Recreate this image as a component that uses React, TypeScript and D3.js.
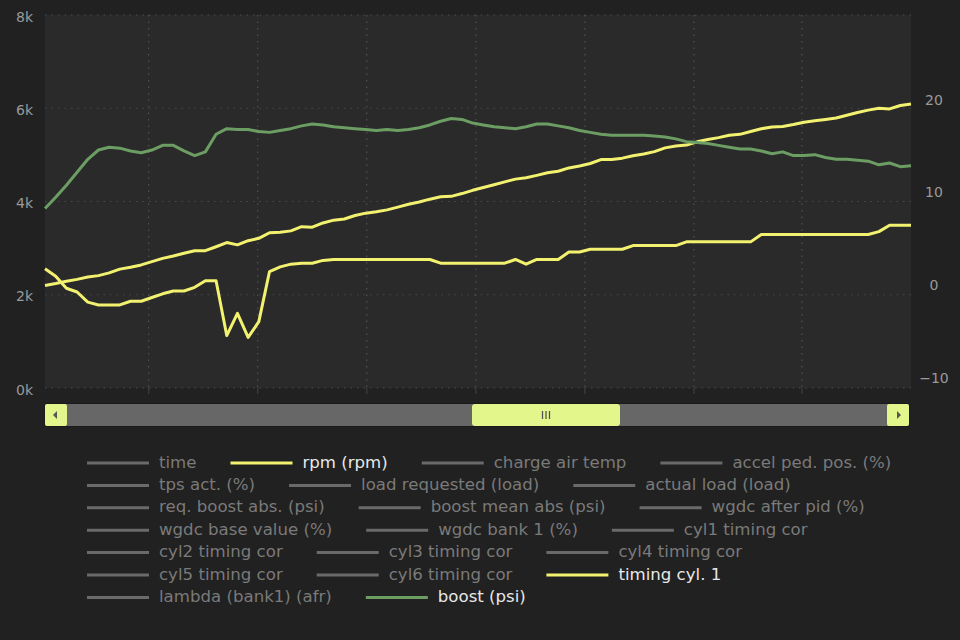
import React, { useMemo } from 'react';
import * as d3 from 'd3';

// ---- data ----
const RPM = [
  2200, 2240, 2290, 2330, 2380, 2410, 2470, 2550, 2590, 2640,
  2710, 2780, 2830, 2890, 2945, 2945, 3030, 3120, 3070, 3160,
  3210, 3330, 3340, 3370, 3460, 3450, 3540, 3600, 3625, 3700,
  3750, 3780, 3820, 3880, 3940, 3990, 4050, 4100, 4110, 4170,
  4240, 4300, 4360, 4420, 4480, 4510, 4560, 4615, 4650, 4720,
  4760, 4815, 4900, 4900, 4930, 4980, 5020, 5070, 5150, 5190,
  5210, 5280, 5330, 5370, 5420, 5440, 5500, 5560, 5600, 5610,
  5650, 5700, 5730, 5760, 5790, 5850, 5910, 5960, 6000, 5985,
  6060, 6090,
];

const TIMING_CYL1 = [
  1.6, 0.8, -0.5, -0.9, -2.0, -2.3, -2.3, -2.3, -1.9, -1.9,
  -1.5, -1.1, -0.8, -0.8, -0.4, 0.3, 0.3, -5.6, -3.2, -5.8,
  -4.1, 1.3, 1.8, 2.1, 2.2, 2.2, 2.5, 2.6, 2.6, 2.6,
  2.6, 2.6, 2.6, 2.6, 2.6, 2.6, 2.6, 2.2, 2.2, 2.2,
  2.2, 2.2, 2.2, 2.2, 2.6, 2.1, 2.6, 2.6, 2.6, 3.4,
  3.4, 3.7, 3.7, 3.7, 3.7, 4.1, 4.1, 4.1, 4.1, 4.1,
  4.5, 4.5, 4.5, 4.5, 4.5, 4.5, 4.5, 5.3, 5.3, 5.3,
  5.3, 5.3, 5.3, 5.3, 5.3, 5.3, 5.3, 5.3, 5.6, 6.3,
  6.3, 6.3,
];

const BOOST = [
  8.1, 9.3, 10.6, 12.0, 13.4, 14.4, 14.7, 14.6, 14.3, 14.1,
  14.4, 14.9, 14.9, 14.3, 13.8, 14.2, 16.1, 16.7, 16.6, 16.6,
  16.4, 16.3, 16.5, 16.7, 17.0, 17.2, 17.1, 16.9, 16.8, 16.7,
  16.6, 16.5, 16.6, 16.5, 16.6, 16.8, 17.1, 17.5, 17.8, 17.7,
  17.3, 17.1, 16.9, 16.8, 16.7, 16.9, 17.2, 17.2, 17.0, 16.8,
  16.5, 16.3, 16.1, 16.0, 16.0, 16.0, 16.0, 15.9, 15.8, 15.6,
  15.3, 15.2, 15.1, 14.9, 14.7, 14.5, 14.5, 14.3, 14.0, 14.2,
  13.8, 13.8, 13.9, 13.6, 13.4, 13.4, 13.3, 13.2, 12.8, 13.0,
  12.6, 12.7,
];

const X_GRID = [9.7, 19.9, 30.1, 40.3, 50.5, 60.7, 70.8];
const LEFT_TICKS = [0, 2000, 4000, 6000, 8000];
const RIGHT_TICKS = [-10, 0, 10, 20];
const LEFT_DOMAIN = [0, 8000];
const RIGHT_DOMAIN = [-11.25, 28.95];

const LEGEND_NAMES = [
  'time', 'rpm (rpm)', 'charge air temp', 'accel ped. pos. (%)',
  'tps act. (%)', 'load requested (load)', 'actual load (load)',
  'req. boost abs. (psi)', 'boost mean abs (psi)', 'wgdc after pid (%)',
  'wgdc base value (%)', 'wgdc bank 1 (%)', 'cyl1 timing cor',
  'cyl2 timing cor', 'cyl3 timing cor', 'cyl4 timing cor',
  'cyl5 timing cor', 'cyl6 timing cor', 'timing cyl. 1',
  'lambda (bank1) (afr)', 'boost (psi)',
];

// ---- styles ----
const YELLOW = '#f3f270';
const GREEN = '#6c9e64';
const ACTIVE_COLORS: Record<string, string> = {
  'rpm (rpm)': YELLOW,
  'timing cyl. 1': YELLOW,
  'boost (psi)': GREEN,
};
const FONT = '"DejaVu Sans", "Lucida Grande", sans-serif';
const LEGEND_FONT_SIZE = 16.6;

const W = 960;
const H = 640;
const PL = 45, PR = 911, PT = 15, PB = 388;

function measure(text: string, size: number): number {
  const c = document.createElement('canvas');
  const ctx = c.getContext('2d');
  if (!ctx) return text.length * size * 0.6;
  ctx.font = `${size}px "DejaVu Sans"`;
  return ctx.measureText(text).width;
}

export default function App() {
  const x = d3.scaleLinear().domain([0, RPM.length - 1]).range([PL, PR]);
  const yL = d3.scaleLinear().domain(LEFT_DOMAIN).range([PB, PT]);
  const yR = d3.scaleLinear().domain(RIGHT_DOMAIN).range([PB, PT]);

  const lineL = d3.line<number>().x((_, i) => x(i)).y((d) => yL(d));
  const lineR = d3.line<number>().x((_, i) => x(i)).y((d) => yR(d));

  const legend = useMemo(() => {
    const items: { name: string; x: number; y: number }[] = [];
    const startX = 87, lineW = 62, textGap = 10, itemGap = 34, maxX = 915;
    const rowY0 = 463, rowStep = 22.4;
    let cx = startX, row = 0;
    LEGEND_NAMES.forEach((name) => {
      const w = lineW + textGap + measure(name, LEGEND_FONT_SIZE);
      if (cx !== startX && cx + w > maxX) {
        row += 1;
        cx = startX;
      }
      items.push({ name, x: cx, y: rowY0 + row * rowStep });
      cx += w + itemGap;
    });
    return items;
  }, []);

  const thumbX0 = 472, thumbX1 = 620;
  const sbY = 404, sbH = 22;
  const thumbMid = (thumbX0 + thumbX1) / 2;

  return (
    <svg
      width={W}
      height={H}
      style={{ position: 'absolute', left: 0, top: 0, display: 'block' }}
      fontFamily={FONT}
    >
      <rect x={0} y={0} width={W} height={H} fill="#212121" />
      <rect x={PL} y={PT} width={PR - PL} height={PB - PT} fill="#2a2a2a" />

      {/* horizontal grid */}
      {LEFT_TICKS.map((t) => (
        <line
          key={'hg' + t}
          x1={PL}
          x2={PR}
          y1={yL(t)}
          y2={yL(t)}
          stroke="#4a4a4a"
          strokeWidth={1}
          strokeDasharray="1.5,5"
        />
      ))}
      {/* vertical grid + ticks */}
      {X_GRID.map((g) => (
        <g key={'vg' + g}>
          <line
            x1={x(g)}
            x2={x(g)}
            y1={PT}
            y2={PB}
            stroke="#5a5a5a"
            strokeWidth={1}
            strokeDasharray="1.5,5"
          />
          <line x1={x(g)} x2={x(g)} y1={PB} y2={PB + 6} stroke="#444" strokeWidth={1} />
        </g>
      ))}

      {/* left axis labels */}
      {LEFT_TICKS.map((t) => (
        <text
          key={'l' + t}
          x={33}
          y={yL(t) + 2.5}
          textAnchor="end"
          dominantBaseline="middle"
          fontSize={14}
          fill="#9a9a9a"
        >
          {t / 1000 + 'k'}
        </text>
      ))}
      {/* right axis labels */}
      {RIGHT_TICKS.map((t) => (
        <text
          key={'r' + t}
          x={934}
          y={yR(t) + 2.5}
          textAnchor="middle"
          dominantBaseline="middle"
          fontSize={14}
          fill="#9a9a9a"
        >
          {d3.format('d')(t)}
        </text>
      ))}

      {/* series */}
      <path d={lineR(TIMING_CYL1) || ''} fill="none" stroke={YELLOW} strokeWidth={3} strokeLinejoin="round" />
      <path d={lineL(RPM) || ''} fill="none" stroke={YELLOW} strokeWidth={3} strokeLinejoin="round" />
      <path d={lineR(BOOST) || ''} fill="none" stroke={GREEN} strokeWidth={3} strokeLinejoin="round" />

      {/* scrollbar */}
      <rect x={PL - 1} y={sbY - 1} width={PR - PL} height={sbH + 2} fill="#1a1a1a" rx={3} />
      <rect x={PL} y={sbY} width={PR - PL - 2} height={sbH} fill="#676767" rx={2} />
      <rect x={PL} y={sbY} width={22} height={sbH} fill="#e2f68c" rx={2} />
      <path d={`M${PL + 8},${sbY + sbH / 2} L${PL + 12},${sbY + sbH / 2 - 4} L${PL + 12},${sbY + sbH / 2 + 4} Z`} fill="#555" />
      <rect x={PR - 24} y={sbY} width={22} height={sbH} fill="#e2f68c" rx={2} />
      <path d={`M${PR - 10},${sbY + sbH / 2} L${PR - 14},${sbY + sbH / 2 - 4} L${PR - 14},${sbY + sbH / 2 + 4} Z`} fill="#555" />
      <rect x={thumbX0} y={sbY} width={thumbX1 - thumbX0} height={sbH} fill="#e2f68c" rx={3} />
      {[-3.5, 0, 3.5].map((d) => (
        <line key={'g' + d} x1={thumbMid + d} x2={thumbMid + d} y1={sbY + 7} y2={sbY + 15} stroke="#555" strokeWidth={1.3} />
      ))}

      {/* legend */}
      {legend.map((it) => {
        const active = ACTIVE_COLORS[it.name];
        return (
          <g key={it.name}>
            <line
              x1={it.x}
              x2={it.x + 62}
              y1={it.y}
              y2={it.y}
              stroke={active || '#6a6a6a'}
              strokeWidth={3}
            />
            <text
              x={it.x + 72}
              y={it.y}
              dominantBaseline="middle"
              fontSize={LEGEND_FONT_SIZE}
              fill={active ? '#e8e8e8' : '#7a7a7a'}
            >
              {it.name}
            </text>
          </g>
        );
      })}
    </svg>
  );
}
